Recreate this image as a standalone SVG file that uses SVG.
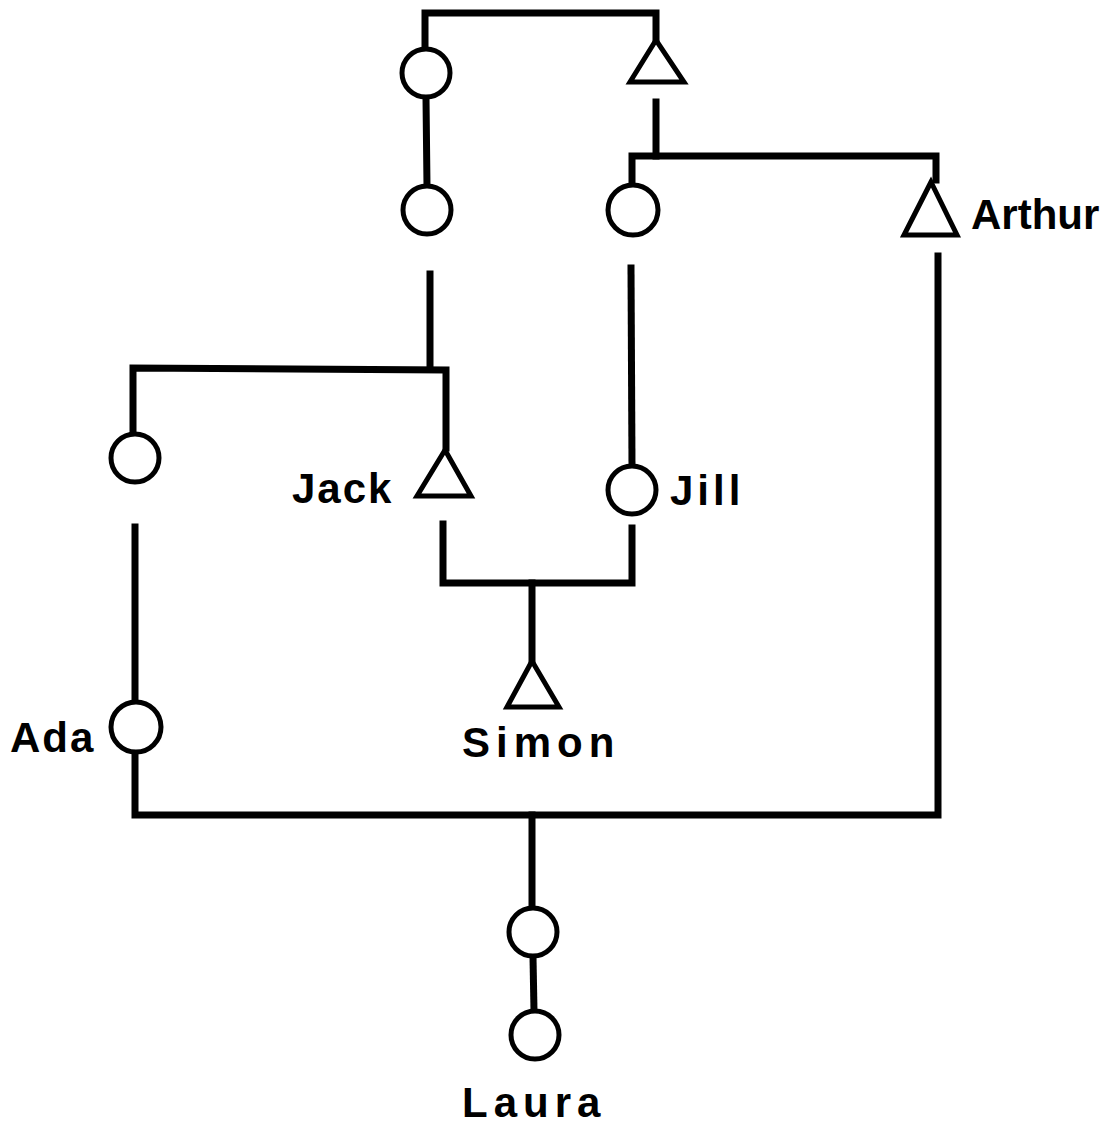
<svg xmlns="http://www.w3.org/2000/svg" width="1115" height="1129" viewBox="0 0 1115 1129">
<style>
.ln{stroke:#000;stroke-width:7;fill:none;stroke-linecap:square;stroke-linejoin:miter}
.f{stroke:#000;stroke-width:5;fill:#fff}
.t{font-family:"Liberation Sans",Arial,sans-serif;font-weight:bold;font-size:42px;fill:#000}
</style>
<rect width="1115" height="1129" fill="#fff"/>
<g id="connectors">
<polyline class="ln" points="425,48 425,13 656,13 656,40"/>
<line class="ln" x1="426" y1="98" x2="427" y2="186"/>
<line class="ln" x1="656" y1="102" x2="656" y2="156"/>
<polyline class="ln" points="632,186 632,156 936,156 936,180"/>
<line class="ln" x1="430" y1="274" x2="430" y2="368"/>
<polyline class="ln" points="133,432 133,368 446,370 446,448"/>
<line class="ln" x1="631" y1="268" x2="632" y2="466"/>
<line class="ln" x1="135" y1="527" x2="135" y2="702"/>
<polyline class="ln" points="135,753 135,815 938,815 938,256"/>
<polyline class="ln" points="443,524 443,583 632,583 632,528"/>
<line class="ln" x1="532" y1="583" x2="532" y2="660"/>
<line class="ln" x1="532" y1="815" x2="532" y2="908"/>
<line class="ln" x1="533" y1="957" x2="534" y2="1011"/>
</g>
<g id="n1"><circle class="f" cx="426" cy="73" r="24"/></g>
<g id="n2"><polygon class="f" points="656,40 630,82 684,82"/></g>
<g id="n3"><circle class="f" cx="427" cy="210" r="24"/></g>
<g id="n4"><circle class="f" cx="633" cy="210" r="25"/></g>
<g id="arthur"><polygon class="f" points="931,182 904,235 957,235"/><text class="t" x="971" y="229" font-size="44">Arthur</text></g>
<g id="n5"><circle class="f" cx="135" cy="458" r="24"/></g>
<g id="jack"><polygon class="f" points="445,450 417,496 471,496"/><text class="t" x="292" y="503" letter-spacing="2">Jack</text></g>
<g id="jill"><circle class="f" cx="632" cy="490" r="24"/><text class="t" x="670" y="505" letter-spacing="4">Jill</text></g>
<g id="ada"><circle class="f" cx="136" cy="727" r="25"/><text class="t" x="10" y="752" letter-spacing="2">Ada</text></g>
<g id="simon"><polygon class="f" points="532,661 507,707 559,707"/><text class="t" x="462" y="757" letter-spacing="6">Simon</text></g>
<g id="n6"><circle class="f" cx="533" cy="932" r="24"/></g>
<g id="laura"><circle class="f" cx="535" cy="1035" r="24"/><text class="t" x="462" y="1117" letter-spacing="6">Laura</text></g>
</svg>
